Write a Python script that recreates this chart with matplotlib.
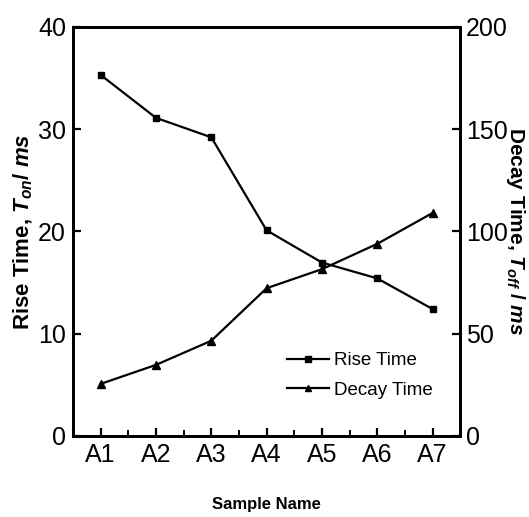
import numpy as np
import matplotlib.pyplot as plt
from matplotlib.lines import Line2D

plt.rcParams['font.family'] = ['Liberation Sans', 'DejaVu Sans']
plt.rcParams['mathtext.fontset'] = 'custom'
plt.rcParams['mathtext.it'] = 'Liberation Sans:italic:bold'
plt.rcParams['mathtext.rm'] = 'Liberation Sans:bold'

samples = ["A1", "A2", "A3", "A4", "A5", "A6", "A7"]
rise_time = [35.3, 31.1, 29.2, 20.1, 16.95, 15.4, 12.4]
decay_time = [25.4, 34.7, 46.5, 72.2, 81.5, 93.9, 109.0]

x = np.arange(1, len(samples) + 1)

fig = plt.figure(figsize=(5.29, 5.17), dpi=100)
ax = fig.add_axes([0.138, 0.157, 0.732, 0.791])
ax2 = ax.twinx()

ax.plot(x, rise_time, color="black", lw=1.6, marker="s", ms=5)
ax2.plot(x, decay_time, color="black", lw=1.6, marker="^", ms=5.5)

ax.set_xlim(0.5, 7.5)
ax.set_ylim(0, 40)
ax2.set_ylim(0, 200)
ax.set_xticks(x)
ax.set_xticklabels(samples)
ax.set_xticks(x[:-1] + 0.5, minor=True)
ax.set_yticks([0, 10, 20, 30, 40])
ax2.set_yticks([0, 50, 100, 150, 200])

for a in (ax, ax2):
    for s in a.spines.values():
        s.set_linewidth(2)
ax.tick_params(axis="both", which="major", direction="in", length=6, width=1.6,
               labelsize=18, pad=5)
ax.tick_params(axis="x", which="minor", direction="in", length=4, width=1.4)
ax.tick_params(axis="y", right=False)
ax2.tick_params(axis="y", direction="in", length=6, width=1.6, labelsize=18, pad=4)

ax.set_xlabel("Sample Name", fontsize=12, fontweight="bold", labelpad=22)
ax.set_ylabel(r"Rise Time, $T_{on}$/ $ms$", fontsize=16, fontweight="bold", labelpad=2)
ax2.set_ylabel(r"Decay Time, $T_{off}$ / $ms$", fontsize=15, fontweight="bold",
               rotation=-90, labelpad=14)

handles = [
    Line2D([], [], color="black", lw=1.6, marker="s", ms=4),
    Line2D([], [], color="black", lw=1.6, marker="^", ms=4.5),
]
ax.legend(handles, ["Rise Time", "Decay Time"], loc="lower left",
          bbox_to_anchor=(0.51, 0.05), frameon=False, fontsize=13.5,
          handlelength=2.2, handletextpad=0.3, labelspacing=0.65)

fig.savefig("out.png", dpi=100)
